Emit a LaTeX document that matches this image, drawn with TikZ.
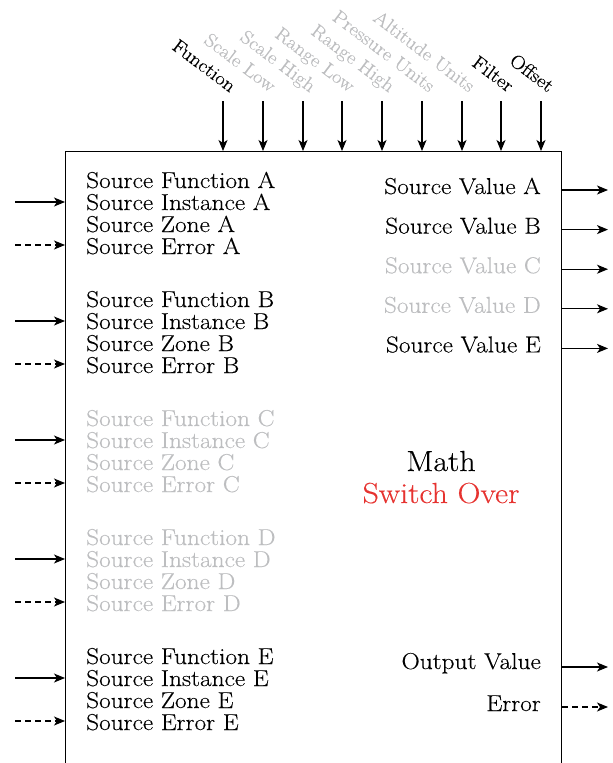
\documentclass[tikz,border=0pt]{standalone}
\usepackage{fontspec}
\setmainfont{Latin Modern Roman}[FakeStretch=1.1,FakeBold=0.3]
\usetikzlibrary{arrows.meta}
\definecolor{lg}{HTML}{BDBEC0}
\definecolor{rd}{HTML}{E63330}
\begin{document}
\begin{tikzpicture}[x=1pt,y=-1pt,
 lbl/.style={inner sep=0pt, font=\fontsize{23}{22}\selectfont},
 biglbl/.style={inner sep=0pt, font=\fontsize{29}{29}\selectfont, anchor=base},
 toplbl/.style={inner sep=0pt, font=\fontsize{19}{20}\selectfont, rotate=-37, anchor=base east},
 arr/.style={line width=1.1pt, -{Stealth[length=11pt,width=9pt,inset=3pt]}},
 darr/.style={arr, dash pattern=on 6pt off 4pt},
 ]
\useasboundingbox (0,0) rectangle (613,763);
\clip (0,0) rectangle (613,763);
\node[draw, line width=1.1pt, minimum width=496pt, minimum height=700pt, anchor=north west, inner sep=0pt] (box) at (65,151) {};
% top inputs
\foreach \i/\x/\t/\c in {1/223/Function/black, 2/263/Scale Low/lg, 3/303/Scale High/lg, 4/342/Range Low/lg, 5/382/Range High/lg, 6/422/Pressure Units/lg, 7/462/Altitude Units/lg, 8/501/Filter/black, 9/541/Offset/black}{
  \coordinate (t\i) at (\x,101);
  \draw[arr] (t\i) -- (t\i |- box.north);
  \node[toplbl, text=\c] (tl\i) at (\x+7,93) {\t};
}
% left groups
\foreach \k/\L/\c [evaluate=\k as \yy using 188+119*\k] in {0/A/black,1/B/black,2/C/lg,3/D/lg,4/E/black}{
  \node[lbl, anchor=base west, text=\c] (sf\L) at (86,\yy) {Source Function \L};
  \node[lbl, anchor=base west, text=\c] (si\L) at (86,\yy+22) {Source Instance \L};
  \node[lbl, anchor=base west, text=\c] (sz\L) at (86,\yy+44) {Source Zone \L};
  \node[lbl, anchor=base west, text=\c] (se\L) at (86,\yy+66) {Source Error \L};
  \coordinate (in\L) at (15,\yy+14);
  \coordinate (ie\L) at (15,\yy+57);
  \draw[arr] (in\L) -- (in\L -| box.west);
  \draw[darr] (ie\L) -- (ie\L -| box.west);
}
% right values
\foreach \k/\L/\c [evaluate=\k as \yy using 194+39.6*\k] in {0/A/black,1/B/black,2/C/lg,3/D/lg,4/E/black}{
  \node[lbl, anchor=base east, text=\c] (sv\L) at (541,\yy) {Source Value \L};
  \coordinate (ov\L) at (608,\yy-4);
  \draw[arr] (ov\L -| box.east) -- (ov\L);
}
\node[lbl, anchor=base east] (outv) at (541,669) {Output Value};
\coordinate (outc) at (608,667);
\draw[arr] (outc -| box.east) -- (outc);
\node[lbl, anchor=base east] (err) at (541,711) {Error};
\coordinate (errc) at (608,707);
\draw[darr] (errc -| box.east) -- (errc);
% title
\node[biglbl] (math) at (441,471) {Math};
\node[biglbl, text=rd] (sw) at (441,503) {Switch Over};
\end{tikzpicture}
\end{document}
